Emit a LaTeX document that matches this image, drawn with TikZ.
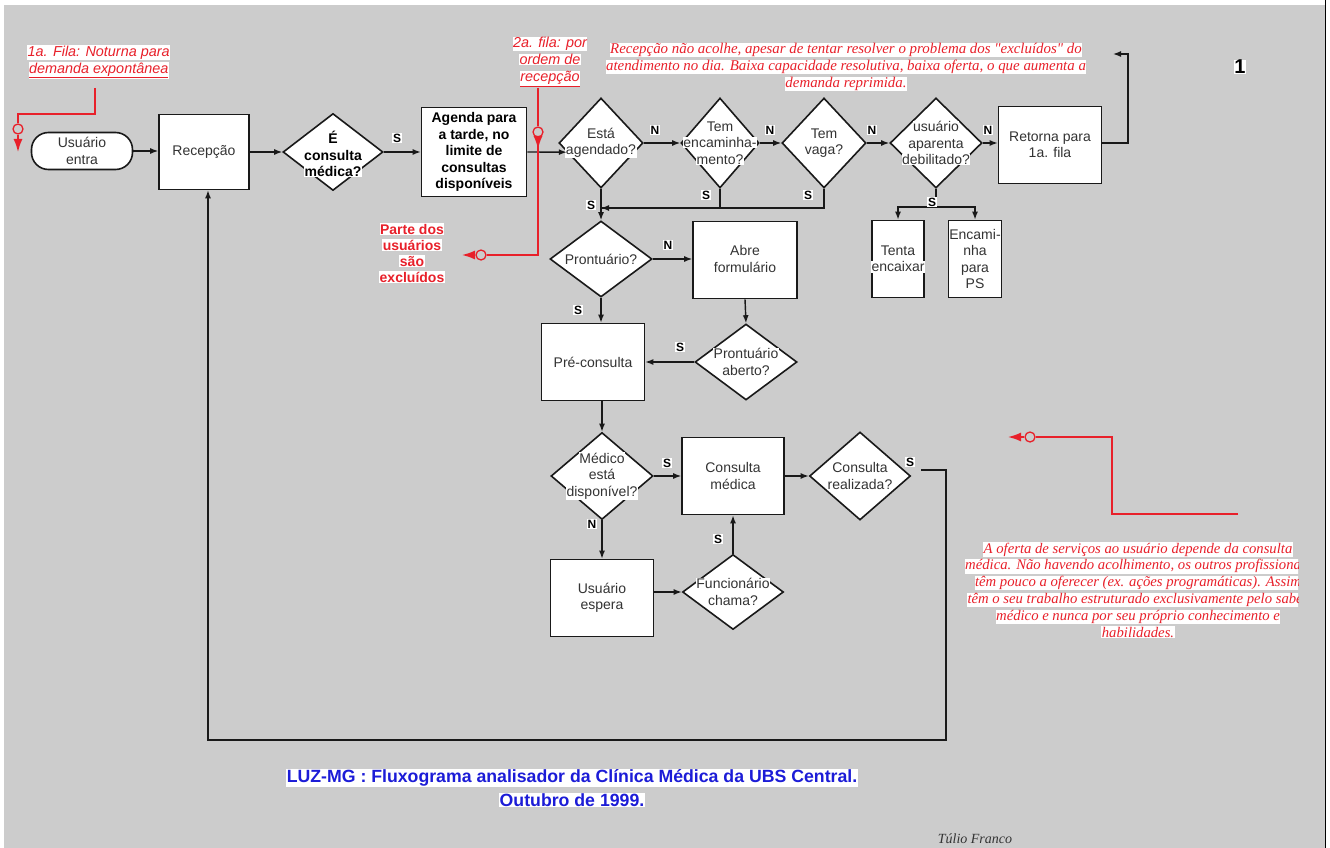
\documentclass[tikz,border=0pt]{standalone}
\usepackage{fontspec}
\setmainfont{Liberation Sans}
\newfontfamily\seriffam{Liberation Serif}
\usetikzlibrary{shapes.geometric,arrows.meta,calc}
\definecolor{bg}{RGB}{204,204,204}
\definecolor{redn}{RGB}{232,32,42}
\definecolor{bluet}{RGB}{28,28,215}
\definecolor{ink}{RGB}{25,25,25}
\newcommand{\hl}[1]{{\setlength{\fboxsep}{0.5pt}\colorbox{white}{#1}}}
\newcommand{\fs}[2]{\fontsize{#1}{#2}\selectfont}
\begin{document}
\begin{tikzpicture}[x=1pt,y=-1pt,
  box/.style={draw=ink,line width=1.6pt,fill=white,rectangle,inner sep=0pt},
  dia/.style={draw=ink,line width=1.6pt,fill=white,diamond,inner sep=0pt},
  txt/.style={align=center,inner sep=0pt,font=\fs{14}{16.5},text=black!80},
  btxt/.style={align=center,inner sep=0pt,font=\fs{14}{16.5}\bfseries,text=black},
  lab/.style={inner sep=0.6pt,fill=white,font=\fs{12}{14}\bfseries},
  arr/.style={draw=ink,line width=1.4pt,-{Latex[length=8pt,width=6pt]}},
  ln/.style={draw=ink,line width=1.4pt},
  rln/.style={draw=redn,line width=1.5pt},
  rarr/.style={draw=redn,line width=1.5pt,-{Latex[length=13pt,width=9pt]}},
  rcirc/.style={draw=redn,line width=1.3pt,fill=bg,circle,inner sep=0pt,minimum size=10pt},
  note/.style={align=center,inner sep=0pt,text=redn,font=\fs{14.9}{17}\seriffam\itshape},
  snote/.style={align=center,inner sep=0pt,text=redn,font=\fs{14.4}{17}\itshape},
]
\useasboundingbox (0,0) rectangle (1330,848);
\fill[white] (0,0) rectangle (1330,848);
\fill[bg] (4,5) rectangle (1325,848);
\draw[black,line width=1.5pt] (1325.5,0) -- (1325.5,848);

% ---------- nodes ----------
\node[box,rounded corners=17pt,minimum width=101pt,minimum height=37pt] (ue) at (82,151) {};
\node[txt] (uet) at (ue) {Usuário\\entra};
\node[box,minimum width=90pt,minimum height=75pt] (rec) at (204,152) {};
\node[txt] (rect) at (rec) {Recepção};
\node[dia,minimum width=100pt,minimum height=77pt] (d1) at (333,152) {};
\node[btxt] (d1t) at (333,154) {\hl{É}\\\hl{consulta}\\\hl{médica?}};
\node[box,minimum width=105pt,minimum height=89pt] (ag) at (474,152) {};
\node[btxt] (agt) at (474,152) {Agenda para\\a tarde, no\\limite de\\consultas\\disponíveis};

\node[dia,minimum width=84pt,minimum height=90pt] (d2) at (601,143) {};
\node[txt] (d2t) at (601,143) {\hl{Está}\\\hl{agendado?}};
\node[dia,minimum width=78pt,minimum height=90pt] (d3) at (720,143) {};
\node[txt] (d3t) at (720,143) {\hl{Tem}\\\hl{encaminha-}\\\hl{mento?}};
\node[dia,minimum width=84pt,minimum height=90pt] (d4) at (824,143) {};
\node[txt] (d4t) at (824,143) {\hl{Tem}\\\hl{vaga?}};
\node[dia,minimum width=92pt,minimum height=90pt] (d5) at (936,143) {};
\node[txt] (d5t) at (936,143) {\hl{usuário}\\\hl{aparenta}\\\hl{debilitado?}};
\node[box,minimum width=103pt,minimum height=77pt] (ret) at (1050,145) {};
\node[txt] (rett) at (1050,145) {Retorna para\\1a. fila};
\node[box,minimum width=52pt,minimum height=77pt] (ten) at (898,259) {};
\node[txt] (tent) at (898,259) {\hl{Tenta}\\\hl{encaixar}};
\node[box,minimum width=53pt,minimum height=77pt] (enc) at (975,259) {};
\node[txt] (enct) at (975,259) {\hl{Encami-}\\\hl{nha}\\\hl{para}\\\hl{PS}};

\node[dia,minimum width=102pt,minimum height=76pt] (d6) at (601,259) {};
\node[txt] (d6t) at (601,259) {\hl{Prontuário?}};
\node[box,minimum width=104pt,minimum height=77pt] (abr) at (745,260) {};
\node[txt] (abrt) at (745,259) {Abre\\formulário};
\node[dia,minimum width=102pt,minimum height=76pt] (d7) at (746,362) {};
\node[txt] (d7t) at (746,362) {\hl{Prontuário}\\\hl{aberto?}};
\node[box,minimum width=103pt,minimum height=77pt] (pre) at (593,362) {};
\node[txt] (pret) at (593,362) {Pré-consulta};

\node[dia,minimum width=102pt,minimum height=87pt] (d8) at (602,476) {};
\node[txt] (d8t) at (602,476) {\hl{Médico}\\\hl{está}\\\hl{disponível?}};
\node[box,minimum width=102pt,minimum height=77pt] (cm) at (733,476) {};
\node[txt] (cmt) at (733,476) {Consulta\\médica};
\node[dia,minimum width=101pt,minimum height=88pt] (d9) at (860,476) {};
\node[txt] (d9t) at (860,476) {\hl{Consulta}\\\hl{realizada?}};
\node[box,minimum width=103pt,minimum height=77pt] (usp) at (602,598) {};
\node[txt] (uspt) at (602,598) {Usuário\\espera};
\node[dia,minimum width=101pt,minimum height=75pt] (d10) at (733,592) {};
\node[txt] (d10t) at (733,592) {\hl{Funcionário}\\\hl{chama?}};

% ---------- connectors ----------
\draw[arr] (ue.east) -- (ue.east -| rec.west);
\draw[arr] (rec.east) -- (d1.west);
\draw[arr] (d1.east) -- (d1.east -| ag.west);
\draw[arr] (ag.east) -- ($(d2.west)!0.2!(d2.south)$);
\draw[arr] (d2.east) -- (d3.west);
\draw[arr] (d3.east) -- (d4.west);
\draw[arr] (d4.east) -- (d5.west);
\draw[arr] (d5.east) -- (d5.east -| ret.west);
\coordinate (retend) at (1113,54);
\draw[arr] (ret.east |- d5.east) -- (1128,143) |- (retend);
\coordinate (sj) at (936,207);
\draw[ln] (d5.south) -- (sj);
\draw[arr] (sj) -| (ten.north);
\draw[arr] (sj) -| (enc.north);
\coordinate (jn) at (601,208);
\draw[ln] (d3.south) |- (jn);
\draw[arr] (d4.south) |- (jn);
\draw[arr] (d2.south) -- (d6.north);
\draw[arr] (d6.east) -- (d6.east -| abr.west);
\draw[arr] (abr.south) -- (d7.north);
\draw[arr] (d7.west) -- (d7.west -| pre.east);
\draw[arr] (d6.south) -- (d6.south |- pre.north);
\draw[arr] (d8.north |- pre.south) -- (d8.north);
\draw[arr] (d8.east) -- (cm.west);
\draw[arr] (cm.east) -- (d9.west);
\draw[arr] (d8.south) -- (d8.south |- usp.north);
\draw[arr] (usp.east |- d10.west) -- (d10.west);
\draw[arr] (d10.north) -- (cm.south);
\coordinate (br) at (946,740);
\coordinate (bl) at (208,740);
\draw[arr] ([xshift=10pt,yshift=6pt]d9.east) -| (br) -- (bl) -- (bl |- rec.south);

% ---------- labels ----------
\node[lab] (l1) at (397,138) {S};
\node[lab] (l2) at (655,130) {N};
\node[lab] (l3) at (770,130) {N};
\node[lab] (l4) at (872,130) {N};
\node[lab] (l5) at (988,130) {N};
\node[lab] (l6) at (932,202) {S};
\node[lab] (l7) at (591,205) {S};
\node[lab] (l8) at (706,195) {S};
\node[lab] (l9) at (808,195) {S};
\node[lab] (l10) at (668,245) {N};
\node[lab] (l11) at (578,310) {S};
\node[lab] (l12) at (680,347) {S};
\node[lab] (l13) at (667,463) {S};
\node[lab] (l14) at (910,462) {S};
\node[lab] (l15) at (592,524) {N};
\node[lab] (l16) at (718,539) {S};

% ---------- red notes ----------
\node[snote,anchor=north west] (n1) at (27,45) {\hl{1a. Fila: Noturna para}\\\hl{\underline{demanda expontânea}}};
\coordinate (n1a) at (95,88);
\node[rcirc] (c1) at (18,129) {};
\coordinate (t1) at (18,152);
\draw[rln] (n1a) -- (95,114) -| (c1.north);
\draw[rarr] (c1.south) -- (t1);

\node[snote] (n2) at (550,62) {\hl{2a. fila: por}\\\hl{ordem de}\\\hl{\underline{recepção}}};
\coordinate (n2a) at (538,88);
\node[rcirc] (c2) at (538,132) {};
\node[rcirc] (c3) at (481,255) {};
\coordinate (t2) at (538,149);
\coordinate (t3) at (462,255);
\draw[rln] (n2a) -- (c2.north);
\draw[rln] (c2.south) -- (538,255) -- (c3.east);
\draw[rarr] (c2.south) -- (t2);
\draw[rarr] (c3.west) -- (t3);
\node[align=center,inner sep=0pt,text=redn,font=\fs{14}{16}\bfseries] (n3) at (412,253) {\hl{Parte dos}\\\hl{usuários}\\\hl{são}\\\hl{excluídos}};

\node[note] (n4) at (846,67) {\hl{Recepção não acolhe, apesar de tentar resolver o problema dos "excluídos" do}\\\hl{atendimento no dia. Baixa capacidade resolutiva, baixa oferta, o que aumenta a}\\\hl{demanda reprimida.}};

\coordinate (r0) at (1238,514);
\node[rcirc] (c4) at (1030,437) {};
\coordinate (t4) at (1008,437);
\draw[rln] (r0) -- (1112,514) |- (c4.east);
\draw[rarr] (c4.west) -- (t4);
\begin{scope}
\clip (900,530) rectangle (1298,650);
\node[note,font=\fs{14.7}{16.8}\seriffam\itshape] (n5) at (1138,590) {\hl{A oferta de serviços ao usuário depende da consulta}\\\hl{médica. Não havendo acolhimento, os outros profissionais}\\\hl{têm pouco a oferecer (ex. ações programáticas). Assim}\\\hl{têm o seu trabalho estruturado exclusivamente pelo saber}\\\hl{médico e nunca por seu próprio conhecimento e}\\\hl{habilidades.}};
\end{scope}

% ---------- titles ----------
\node[inner sep=0pt,font=\fs{20}{22}\bfseries] (num) at (1240,67) {\hl{1}};
\node[align=center,inner sep=0pt,text=bluet,font=\fs{17.7}{24}\bfseries] (title) at (572,788) {\hl{LUZ-MG : Fluxograma analisador da Clínica Médica da UBS Central.}\\\hl{Outubro de 1999.}};
\node[inner sep=0pt,font=\fs{14}{16}\seriffam\itshape,text=black!80] (aut) at (975,839) {Túlio Franco};
\end{tikzpicture}
\end{document}
